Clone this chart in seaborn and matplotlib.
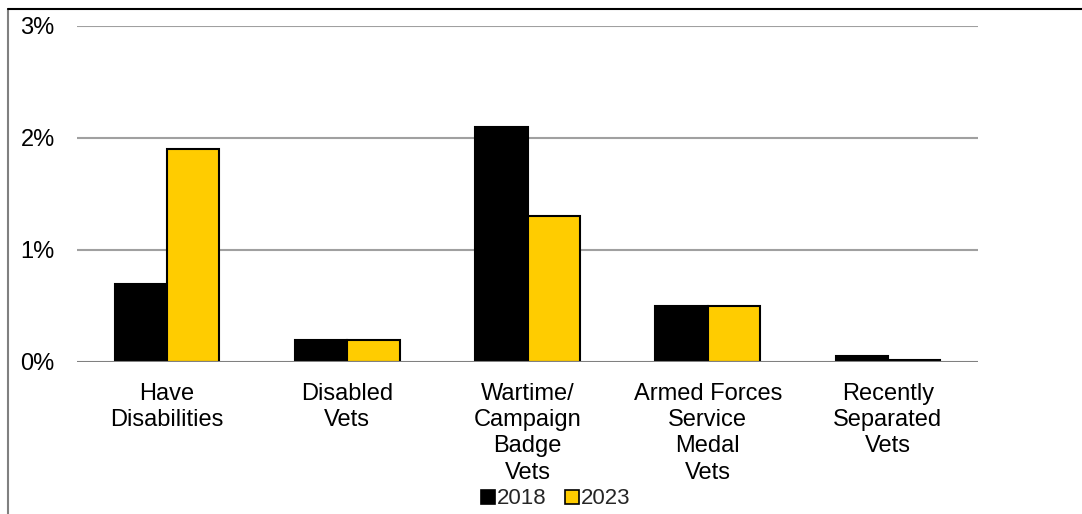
import pandas as pd
import matplotlib
matplotlib.use("Agg")
import matplotlib.pyplot as plt
import seaborn as sns
from matplotlib.ticker import PercentFormatter
from matplotlib.lines import Line2D

categories = ["Have\nDisabilities", "Disabled\nVets", "Wartime/\nCampaign\nBadge\nVets",
              "Armed Forces\nService\nMedal\nVets", "Recently\nSeparated\nVets"]
years = ["2018", "2023"]
vals_2018 = [0.7, 0.2, 2.1, 0.5, 0.05]
vals_2023 = [1.9, 0.2, 1.3, 0.5, 0.02]
yticks = [0, 1, 2, 3]

df = pd.DataFrame({
    "category": categories * 2,
    "year": [years[0]] * len(categories) + [years[1]] * len(categories),
    "value": vals_2018 + vals_2023,
})

sns.set_theme(style="white")
plt.rcParams["font.family"] = ["Liberation Sans", "DejaVu Sans"]

fig = plt.figure(figsize=(10.82, 5.14), dpi=100)
ax = fig.add_axes([77 / 1082, 1 - 362 / 514, (978 - 77) / 1082, (362 - 26) / 514])

palette = {"2018": "#000000", "2023": "#FFCC00"}
sns.barplot(data=df, x="category", y="value", hue="year", palette=palette,
            width=0.58, edgecolor="black", linewidth=1.5, saturation=1,
            ax=ax, legend=False)

ax.set_ylim(0, 3)
ax.set_yticks(yticks)
ax.yaxis.set_major_formatter(PercentFormatter(decimals=0))
for y in yticks[1:]:
    ax.axhline(y, color="#a0a0a0", lw=1.5, zorder=0)
ax.axhline(0, color="#808080", lw=1.5, zorder=5)
for s in ax.spines.values():
    s.set_visible(False)
ax.tick_params(axis="both", length=0, labelsize=17, colors="black")
ax.tick_params(axis="y", pad=16)
ax.tick_params(axis="x", pad=15)
ax.set_xlabel("")
ax.set_ylabel("")
for lbl in ax.get_xticklabels():
    lbl.set_linespacing(1.25)

handles = [Line2D([], [], marker="s", ls="", markersize=9.5, markerfacecolor=palette[y],
                  markeredgecolor="black", markeredgewidth=1.2) for y in years]
fig.legend(handles, years, loc="center", bbox_to_anchor=(555 / 1082, 1 - 499 / 514), ncol=2,
           frameon=False, fontsize=16, handletextpad=0.05, columnspacing=0.8,
           handlelength=0.7)

# chart frame lines
fig.add_artist(Line2D([8 / 1082, 8 / 1082], [0, 1 - 9 / 514], transform=fig.transFigure,
                      color="#808080", lw=1.5))
fig.add_artist(Line2D([8 / 1082, 1], [1 - 9 / 514, 1 - 9 / 514], transform=fig.transFigure,
                      color="black", lw=1.5))

fig.savefig("out.png", dpi=100)
